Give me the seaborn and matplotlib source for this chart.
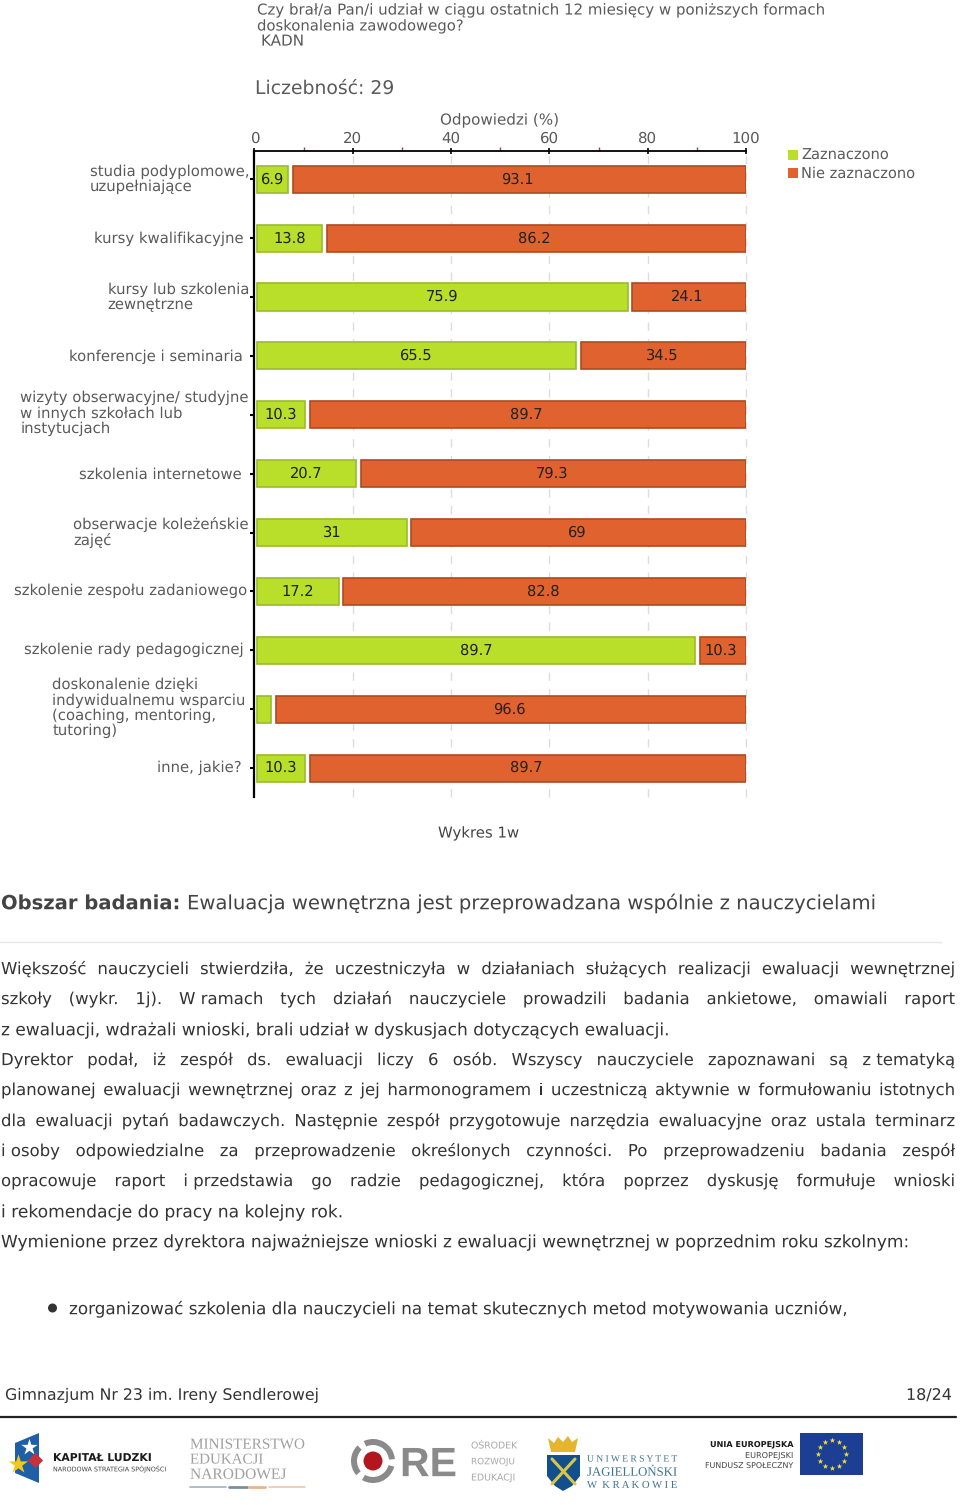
import numpy as np
import pandas as pd
import matplotlib
matplotlib.use("Agg")
import matplotlib.pyplot as plt
import matplotlib.patheffects as pe
from matplotlib.patches import Polygon, Rectangle, Wedge, Circle
from matplotlib.ticker import MultipleLocator
from matplotlib.transforms import ScaledTranslation
import seaborn as sns

categories = ["studia podyplomowe,\nuzupełniające", "kursy kwalifikacyjne", "kursy lub szkolenia\nzewnętrzne",
              "konferencje i seminaria", "wizyty obserwacyjne/ studyjne\nw innych szkołach lub\ninstytucjach",
              "szkolenia internetowe", "obserwacje koleżeńskie\nzajęć", "szkolenie zespołu zadaniowego",
              "szkolenie rady pedagogicznej",
              "doskonalenie dzięki\nindywidualnemu wsparciu\n(coaching, mentoring,\ntutoring)", "inne, jakie?"]
zaznaczono = [6.9, 13.8, 75.9, 65.5, 10.3, 20.7, 31, 17.2, 89.7, 3.4, 10.3]
nie_zaznaczono = [93.1, 86.2, 24.1, 34.5, 89.7, 79.3, 69, 82.8, 10.3, 96.6, 89.7]
green_labels = ["6.9", "13.8", "75.9", "65.5", "10.3", "20.7", "31", "17.2", "89.7", "", "10.3"]
orange_labels = ["93.1", "86.2", "24.1", "34.5", "89.7", "79.3", "69", "82.8", "10.3", "96.6", "89.7"]
series_names = ["Zaznaczono", "Nie zaznaczono"]

sns.set_theme(style="white")
plt.rcParams["font.family"] = ["DejaVu Sans"]
plt.rcParams["text.hinting"] = "no_hinting"
W, H = 960, 1505
GREEN, GREEN_E = "#B9DF2A", "#9BBB2C"
ORANGE, ORANGE_E = "#E0632F", "#AE4A22"
GRAY = "#5a5a5a"
AS_PATH = [pe.Normal()]   # keeps words of one line on exactly one baseline

fig = plt.figure(figsize=(W/100, H/100), dpi=100, facecolor="white")
page = fig.add_axes([0, 0, 1, 1], zorder=1)
page.set_xlim(0, W); page.set_ylim(H, 0); page.axis("off")
ax = fig.add_axes([254.5/W, 1-797/H, (746-254.5)/W, (797-151)/H], zorder=2)
ax.patch.set_alpha(0)

z = np.array(zaznaczono, float); n = np.array(nie_zaznaczono, float)
df = pd.DataFrame({"cat": categories, "z": z, "n": n})
sns.barplot(data=df, x=z-0.5, y="cat", left=0.5, color=GREEN, saturation=1, width=0.46,
            edgecolor=GREEN_E, linewidth=1.2, ax=ax, label=series_names[0], zorder=3)
sns.barplot(data=df, x=n-0.9, y="cat", left=(100-n)+0.9, color=ORANGE, saturation=1, width=0.46,
            edgecolor=ORANGE_E, linewidth=1.2, ax=ax, label=series_names[1], zorder=3)
ax.set_xlim(0, 100); ax.set_ylim(10.49, -0.48)
ax.set_xlabel(""); ax.set_ylabel("")
ax.xaxis.tick_top()
ax.xaxis.set_major_locator(MultipleLocator(20)); ax.xaxis.set_minor_locator(MultipleLocator(10))
ax.tick_params(axis="x", which="major", direction="inout", length=5, width=1.2, color="black",
               labelsize=10.8, labelcolor=GRAY, pad=1, top=True, bottom=False)
ax.tick_params(axis="x", which="minor", direction="out", length=3, width=1, color="#a04040", top=True, bottom=False)
ax.tick_params(axis="y", length=3, width=1.5, color="black", labelsize=10.7, labelcolor=GRAY, left=True)
for s in ["right", "bottom"]:
    ax.spines[s].set_visible(False)
ax.spines["top"].set_linewidth(1.3); ax.spines["top"].set_color("black")
ax.spines["left"].set_linewidth(1.6); ax.spines["left"].set_color("black")
ax.grid(False)
for v in [20, 40, 60, 80, 100]:
    ax.axvline(v, color="#dddddd", lw=1, ls=(0, (6, 6)), zorder=1, clip_on=False)
pads = [0.7, 5, 1, 5.7, 1, 6, 1, 2, 5, 3.5, 6]
lifts_px = [2, 1, 1.5, 1, 3.5, 0.5, 2, 2, 2, 3, 2]
for tick, lab, p, d in zip(ax.yaxis.get_major_ticks(), ax.get_yticklabels(), pads, lifts_px):
    tick.set_pad(p)
    lab.set_multialignment("left"); lab.set_linespacing(1.07)
    lab.set_transform(lab.get_transform() + ScaledTranslation(0, d/100, fig.dpi_scale_trans))
for i, (a, b, ga, gb) in enumerate(zip(z, n, green_labels, orange_labels)):
    ax.text((0.5+a)/2, i, ga, ha="center", va="center", fontsize=10.5, color="#222222", zorder=5)
    ax.text((100-b+0.9+100)/2-0.35, i, gb, ha="center", va="center", fontsize=10.5, color="#222222", zorder=5)
leg = ax.legend(loc="upper left", bbox_to_anchor=(788/W, 1-148.5/H), bbox_transform=fig.transFigure, frameon=False,
                fontsize=10.5, labelcolor=GRAY, handlelength=0.69, handleheight=0.69, handletextpad=0.2,
                labelspacing=0.25, borderpad=0, borderaxespad=0)
for h in leg.legend_handles:
    h.set_linewidth(0)

rend = fig.canvas.get_renderer()
def fit(x0, x1, y, s, **kw):
    """Real text on a common baseline, sized so that it spans x0..x1 in pixels."""
    t = page.text(x0, y, s, ha="left", va="baseline", fontsize=10, path_effects=AS_PATH, **kw)
    for _ in range(2):
        w = t.get_window_extent(rend).width
        t.set_fontsize(t.get_fontsize()*(x1-x0)/w)
    t.set_y(y + 0.37*t.get_fontsize()*100/72)
    return t

# header
fit(257, 825, 9, "Czy brał/a Pan/i udział w ciągu ostatnich 12 miesięcy w poniższych formach", color=GRAY)
fit(257, 463, 25, "doskonalenia zawodowego?", color=GRAY)
fit(261, 304, 40, "KADN", color=GRAY)
fit(255, 394, 87, "Liczebność: 29", color=GRAY)
fit(440, 559, 119, "Odpowiedzi (%)", color=GRAY)
fit(438, 519, 832, "Wykres 1w", color="#444444")

# body
BODY = "#333333"
fit(1, 180, 902, "Obszar badania:", color="#444444", fontweight="bold")
fit(187, 876, 902, "Ewaluacja wewnętrzna jest przeprowadzana wspólnie z nauczycielami", color="#444444")
page.plot([0, 941], [942, 942], color="#e6e6e6", lw=1)
body_size = 11.9
def justified(y, s, x0=1, x1=955):
    ws = s.split(" ")
    yb = y + 0.37*body_size*100/72
    ts = [page.text(0, yb, w, ha="left", va="baseline", fontsize=body_size, color=BODY, path_effects=AS_PATH) for w in ws]
    widths = [q.get_window_extent(rend).width for q in ts]
    gap = (x1-x0-sum(widths))/(len(ws)-1)
    x = x0
    for q, wd in zip(ts, widths):
        q.set_x(x); x += wd+gap
nb = "\u00a0"
justified(968, "Większość nauczycieli stwierdziła, że uczestniczyła w działaniach służących realizacji ewaluacji wewnętrznej")
justified(998, f"szkoły (wykr. 1j). W{nb}ramach tych działań nauczyciele prowadzili badania ankietowe, omawiali raport")
fit(1, 667, 1029, f"z{nb}ewaluacji, wdrażali wnioski, brali udział w dyskusjach dotyczących ewaluacji.", color=BODY)
justified(1059, f"Dyrektor podał, iż zespół ds. ewaluacji liczy 6 osób. Wszyscy nauczyciele zapoznawani są z{nb}tematyką")
justified(1089, f"planowanej ewaluacji wewnętrznej oraz z jej harmonogramem i uczestniczą aktywnie w formułowaniu istotnych")
justified(1120, "dla ewaluacji pytań badawczych. Następnie zespół przygotowuje narzędzia ewaluacyjne oraz ustala terminarz")
justified(1150, f"i{nb}osoby odpowiedzialne za przeprowadzenie określonych czynności. Po przeprowadzeniu badania zespół")
justified(1180, f"opracowuje raport i{nb}przedstawia go radzie pedagogicznej, która poprzez dyskusję formułuje wnioski")
fit(1, 342, 1211, f"i{nb}rekomendacje do pracy na kolejny rok.", color=BODY)
fit(1, 909, 1241, "Wymienione przez dyrektora najważniejsze wnioski z ewaluacji wewnętrznej w poprzednim roku szkolnym:", color=BODY)
page.add_patch(Circle((52.5, 1308), 4.5, color="#333333", lw=0))
fit(69, 849, 1308, "zorganizować szkolenia dla nauczycieli na temat skutecznych metod motywowania uczniów,", color=BODY)

# footer
fit(5, 320, 1394, "Gimnazjum Nr 23 im. Ireny Sendlerowej", color=BODY)
fit(906, 952, 1394, "18/24", color=BODY)
page.plot([0, 956], [1417, 1417], color="#222222", lw=1.6)

# logos
page.add_patch(Polygon([(15, 1443), (39, 1433), (39, 1483), (15, 1473)], color="#1f5fa8", lw=0))
page.scatter([18], [1464], marker="*", s=210, color="#f2c81e", lw=0, zorder=3)
page.scatter([29], [1447], marker="*", s=150, color="white", lw=0, zorder=3)
page.scatter([35], [1460], marker="D", s=60, color="#c8303a", lw=0, zorder=3)
fit(53, 152, 1457, "KAPITAŁ LUDZKI", color="#1a1a1a", fontweight="bold")
fit(53, 166, 1469, "NARODOWA STRATEGIA SPÓJNOŚCI", color="#444444")
serif = ["Liberation Serif"]
fit(190, 305, 1443, "MINISTERSTWO", color="#a0a0a0", family=serif)
fit(190, 263, 1458, "EDUKACJI", color="#a0a0a0", family=serif)
fit(190, 286, 1473, "NARODOWEJ", color="#a0a0a0", family=serif)
page.plot([190, 226], [1487, 1487], color="#9fb2bd", lw=1.2)
page.plot([229, 247], [1487, 1487], color="#7a8f9c", lw=2)
page.plot([249, 265], [1487, 1487], color="#e8b48a", lw=2)
page.plot([269, 305], [1487, 1487], color="#ecc9a8", lw=1.2)

for a, b in [(15, 120), (140, 225), (245, 355)]:
    page.add_patch(Wedge((373, 1461), 22, a, b, width=6, color="#8a8a8a", lw=0))
page.add_patch(Circle((373, 1461), 9.5, color="#b3161f", lw=0))
fit(400, 457, 1461, "RE", color="#8a8a8a", fontweight="bold", family=["Liberation Sans"])
fit(471, 517, 1445, "OŚRODEK", color="#a8a8a8")
fit(471, 515, 1461, "ROZWOJU", color="#a8a8a8")
fit(471, 515, 1477, "EDUKACJI", color="#a8a8a8")

page.add_patch(Polygon([(548, 1438), (554, 1443), (558, 1437), (563, 1442), (568, 1436), (572, 1442), (578, 1438),
                        (575, 1452), (551, 1452)], color="#e5b52d", lw=0))
page.add_patch(Polygon([(547, 1455), (580, 1455), (580, 1476), (572, 1486), (563, 1491), (555, 1486), (547, 1476)],
                       color="#124f8c", lw=0))
page.plot([552, 575], [1459, 1484], color="#d8c64a", lw=2.2, solid_capstyle="round")
page.plot([575, 552], [1459, 1484], color="#d8c64a", lw=2.2, solid_capstyle="round")
fit(587, 677, 1458, "U N I W E R S Y T E T", color="#3f7394", family=serif)
fit(587, 677, 1471, "JAGIELLOŃSKI", color="#3f7394", family=serif)
fit(587, 677, 1484, "W  K R A K O W I E", color="#3f7394", family=serif)

fit(710, 793, 1444, "UNIA EUROPEJSKA", color="#1a1a1a", fontweight="bold")
fit(745, 793, 1455, "EUROPEJSKI", color="#444444")
fit(705, 793, 1465, "FUNDUSZ SPOŁECZNY", color="#444444")
page.add_patch(Rectangle((800, 1433), 63, 42, color="#1c3f94", lw=0))
ang = np.deg2rad(np.arange(0, 360, 30))
page.scatter(832+14*np.cos(ang), 1454+14*np.sin(ang), marker="*", s=18, color="#f2e23a", lw=0, zorder=3)

fig.savefig("out.png", dpi=100, facecolor="white")
